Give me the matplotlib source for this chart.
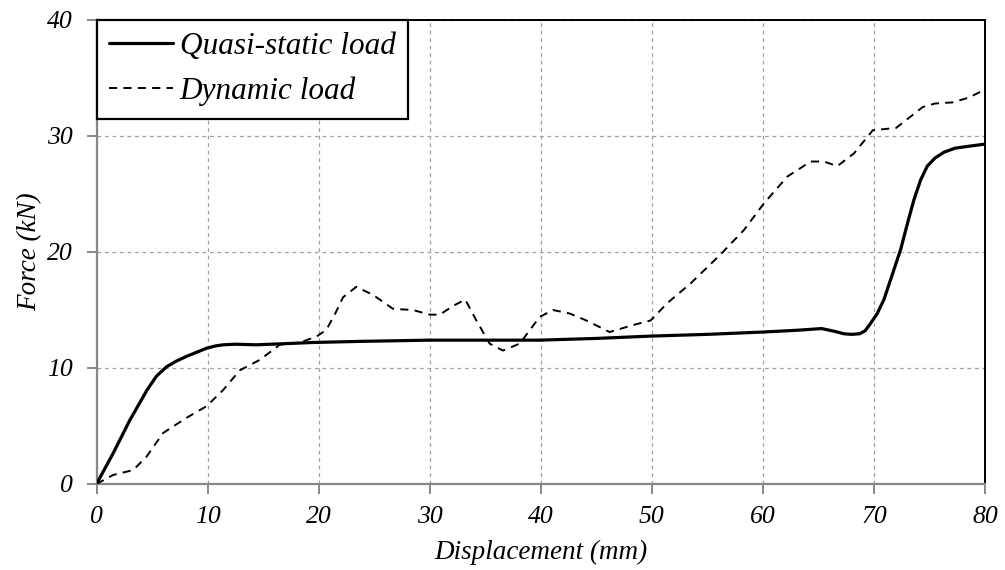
import matplotlib
matplotlib.use("Agg")
import matplotlib.pyplot as plt

# Quasi-static load (solid)
qs_x = [0, 1.5, 3.0, 4.55, 5.4, 6.3, 7.2, 8.1, 9.0, 9.9, 10.7, 11.4, 12.5, 14.4, 17.0, 19.5, 24.0, 30.0, 35.0, 39.9,
        45.0, 49.9, 55.0, 60.0, 63.0, 65.3, 66.5, 67.3, 68.0, 68.7, 69.2, 69.7, 70.3, 70.9, 71.6, 72.4,
        73.0, 73.6, 74.2, 74.8, 75.5, 76.3, 77.3, 78.4, 80.0]
qs_y = [0, 2.65, 5.5, 8.1, 9.3, 10.1, 10.6, 11.0, 11.35, 11.7, 11.9, 12.0, 12.05, 12.0, 12.1, 12.2, 12.3, 12.4, 12.4, 12.4,
        12.55, 12.75, 12.9, 13.1, 13.25, 13.4, 13.15, 12.95, 12.9, 12.95, 13.2, 13.85, 14.7, 15.9, 17.9, 20.2,
        22.4, 24.5, 26.2, 27.4, 28.1, 28.6, 28.95, 29.1, 29.3]

# Dynamic load (dashed)
dy_x = [0, 1.5, 3.3, 4.5, 6.0, 8.1, 9.9, 11.4, 12.9, 14.7, 16.5, 18.3, 19.8, 20.7, 21.5, 22.2, 23.4,
        24.9, 26.7, 28.5, 30.0, 30.9, 32.2, 33.2, 34.2, 35.4, 36.6, 38.1, 39.9, 41.1, 42.6,
        44.1, 46.2, 48.3, 49.9, 51.4, 53.5, 56.2, 58.3, 60.1, 62.2, 64.3, 65.5, 66.7, 68.2,
        69.9, 71.0, 72.0, 73.2, 74.4, 75.5, 77.1, 78.5, 80.0]
dy_y = [0, 0.78, 1.2, 2.35, 4.4, 5.7, 6.7, 8.1, 9.8, 10.7, 12.0, 12.2, 12.7, 13.3, 14.7, 16.1, 17.0,
        16.3, 15.1, 15.0, 14.6, 14.6, 15.4, 15.9, 14.1, 12.1, 11.5, 12.1, 14.4, 15.0, 14.7,
        14.1, 13.1, 13.7, 14.1, 15.6, 17.3, 19.8, 21.9, 24.2, 26.5, 27.8, 27.8, 27.4, 28.5,
        30.5, 30.6, 30.7, 31.6, 32.5, 32.8, 32.9, 33.3, 34.0]

x_ticks = [0, 10, 20, 30, 40, 50, 60, 70, 80]
y_ticks = [0, 10, 20, 30, 40]

plt.rcParams['font.family'] = ['Liberation Serif', 'DejaVu Serif']
plt.rcParams['font.style'] = 'italic'

fig = plt.figure(figsize=(10.05, 5.7), dpi=100)
ax = fig.add_axes([96.5/1005, 86/570, (985-96.5)/1005, (484-20)/570])

ax.plot(qs_x, qs_y, color='black', lw=2.3, solid_capstyle='round', solid_joinstyle='round',
        label='Quasi-static load', zorder=3)
ax.plot(dy_x, dy_y, color='black', lw=1.4, dashes=(4.2, 3.2), label='Dynamic load', zorder=3)

ax.set_xlim(0, 80)
ax.set_ylim(0, 40)
ax.set_xticks(x_ticks)
ax.set_yticks(y_ticks)
ax.grid(True, color='#a0a0a0', linestyle=(0, (3, 3)), linewidth=0.9)
ax.set_axisbelow(True)

for s in ['left', 'bottom']:
    ax.spines[s].set_color('#888888')
    ax.spines[s].set_linewidth(1.6)
for s in ['top', 'right']:
    ax.spines[s].set_color('black')
    ax.spines[s].set_linewidth(1.4)
ax.tick_params(axis='both', direction='out', length=7, width=1.4, color='#888888',
               labelsize=18.5)
ax.tick_params(axis='x', pad=9)
ax.tick_params(axis='y', pad=10)
for lab in ax.get_xticklabels() + ax.get_yticklabels():
    lab.set_fontstyle('italic')

ax.set_xlabel('Displacement (mm)', fontsize=19.5, style='italic', labelpad=8.5)
ax.set_ylabel('Force (kN)', fontsize=19.5, style='italic', labelpad=3.5)

leg = ax.legend(loc='upper left', bbox_to_anchor=(0, 1), borderaxespad=0, fancybox=False,
                framealpha=1, edgecolor='black', handlelength=2.05,
                handletextpad=0.22, borderpad=0.39, labelspacing=0.5,
                prop={'style': 'italic', 'size': 22.5})
leg.get_frame().set_linewidth(1.6)

fig.savefig('out.png', dpi=100)
